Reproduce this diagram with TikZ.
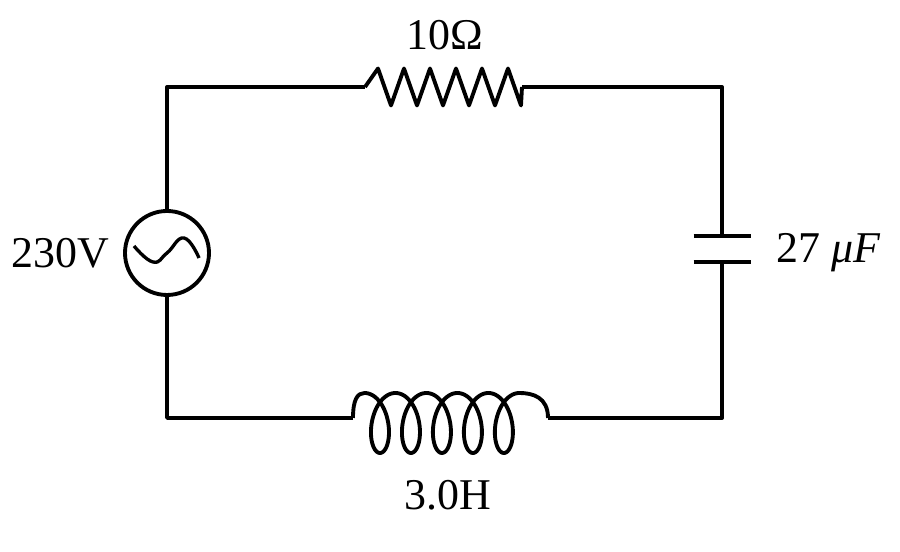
\documentclass[tikz,border=0pt]{standalone}
\usepackage{fontspec}
\usetikzlibrary{calc}
\setmainfont{Liberation Serif}
\tikzstyle{wire}=[line width=2.2pt, line join=round]
\tikzstyle{lbl}=[font=\fontsize{25}{28}\selectfont]
\begin{document}
\begin{tikzpicture}
  \useasboundingbox (0,0) rectangle (18,11.04);
  %% corners and terminals
  \coordinate (TL) at (3.34,9.3);
  \coordinate (TR) at (14.44,9.3);
  \coordinate (BL) at (3.34,2.68);
  \coordinate (BR) at (14.44,2.68);
  \coordinate (R1) at (7.3,9.3);
  \coordinate (R2) at (10.44,9.3);
  \coordinate (L1) at (7.06,2.68);
  \coordinate (L2) at (10.96,2.68);
  \coordinate (C1) at (14.44,6.32);
  \coordinate (C2) at (14.44,5.8);
  \node[circle, draw, line width=2.2pt, minimum size=1.68cm, inner sep=0pt] (V) at (3.34,5.98) {};

  %% wires
  \draw[wire] (V.north) -- (TL) -- (R1);
  \draw[wire] (R2) -- (TR) -- (C1);
  \draw[wire] (C2) -- (BR) -- (L2);
  \draw[wire] (L1) -- (BL) -- (V.south);

  %% resistor
  \draw[wire] (R1) -- ++(0.26,0.37)
    \foreach \i in {1,...,5} { -- ++(0.26,-0.74) -- ++(0.26,0.74) }
    -- ++(0.26,-0.74) -- (R2);

  %% capacitor
  \draw[wire] ([xshift=-0.57cm]C1) -- ([xshift=0.57cm]C1);
  \draw[wire] ([xshift=-0.57cm]C2) -- ([xshift=0.57cm]C2);

  %% inductor
  \draw[wire] (L1) .. controls (7.06,3.05) and (7.15,3.18) .. (7.29,3.18)
    -- plot[domain=pi:11*pi, samples=400, smooth, variable=\t]
      ({6.98 + 0.0986*\t - 0.32*sin(\t r)}, {2.58 - 0.6*cos(\t r)})
    .. controls (10.65,3.18) and (10.96,3.1) .. (L2);

  %% source symbol
  \draw[line width=1.9pt] plot[smooth, tension=0.8] coordinates {
    ($(V.center)+(-0.66,0.14)$) ($(V.center)+(-0.28,-0.18)$) (V.center)
    ($(V.center)+(0.34,0.3)$) ($(V.center)+(0.64,-0.1)$)};

  %% labels
  \node[lbl] (lR) at (8.9,10.34) {10Ω};
  \node[lbl] (lV) at (1.2,5.98) {230V};
  \node[lbl] (lC) at (16.58,5.98) {27 \textit{μF}};
  \node[lbl] (lL) at (8.96,1.14) {3.0H};
\end{tikzpicture}
\end{document}
